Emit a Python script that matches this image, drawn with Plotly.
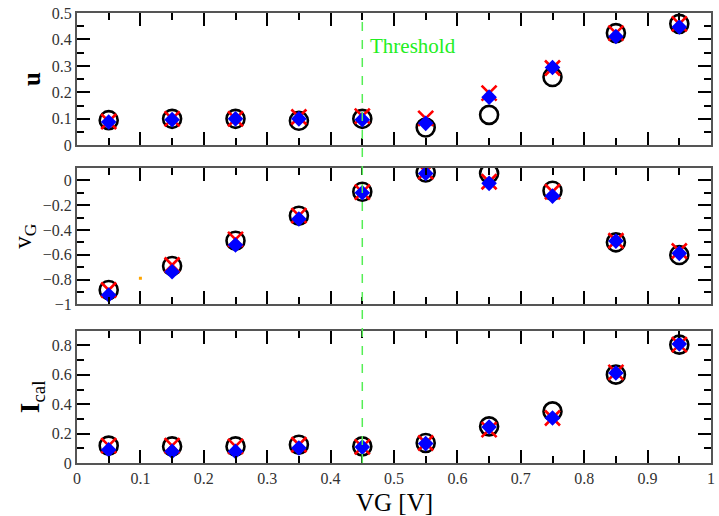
import plotly.graph_objects as go
from plotly.subplots import make_subplots

vg = [0.05, 0.15, 0.25, 0.35, 0.45, 0.55, 0.65, 0.75, 0.85, 0.95]

u_circle = [0.095, 0.100, 0.100, 0.093, 0.100, 0.067, 0.115, 0.258, 0.424, 0.459]
u_cross = [0.090, 0.100, 0.100, 0.107, 0.110, 0.102, 0.197, 0.292, 0.424, 0.459]
u_diam = [0.088, 0.097, 0.100, 0.100, 0.097, 0.083, 0.182, 0.294, 0.411, 0.447]

v_circle = [-0.885, -0.691, -0.487, -0.285, -0.092, 0.064, 0.056, -0.084, -0.500, -0.602]
v_cross = [-0.885, -0.683, -0.476, -0.285, -0.095, 0.070, -0.011, -0.092, -0.487, -0.570]
v_diam = [-0.925, -0.737, -0.522, -0.312, -0.100, 0.056, -0.024, -0.127, -0.490, -0.589]

i_circle = [0.118, 0.113, 0.113, 0.124, 0.113, 0.136, 0.249, 0.351, 0.601, 0.805]
i_cross = [0.118, 0.118, 0.113, 0.124, 0.110, 0.136, 0.227, 0.306, 0.617, 0.805]
i_diam = [0.090, 0.079, 0.079, 0.102, 0.108, 0.132, 0.245, 0.306, 0.612, 0.810]

stray_x = [0.1]
stray_y = [-0.79]

threshold = 0.45

FONT = "Liberation Serif"

fig = make_subplots(rows=3, cols=1, shared_xaxes=False, vertical_spacing=0.05)

panels = [(u_circle, u_cross, u_diam), (v_circle, v_cross, v_diam), (i_circle, i_cross, i_diam)]
for r, (c, x_, d) in enumerate(panels, start=1):
    fig.add_trace(go.Scatter(x=vg, y=c, mode="markers", showlegend=False,
                             marker=dict(symbol="circle-open", size=18, color="black",
                                         line=dict(width=2.6, color="black"))), row=r, col=1)
    fig.add_trace(go.Scatter(x=vg, y=x_, mode="markers", showlegend=False,
                             marker=dict(symbol="x-thin-open", size=15, color="red",
                                         line=dict(width=2.6, color="red"))), row=r, col=1)
    fig.add_trace(go.Scatter(x=vg, y=d, mode="markers", showlegend=False,
                             marker=dict(symbol="diamond", size=12, color="blue",
                                         line=dict(width=0))), row=r, col=1)

fig.add_trace(go.Scatter(x=stray_x, y=stray_y, mode="markers", showlegend=False,
                         marker=dict(symbol="square", size=3, color="orange", line=dict(width=0))),
              row=2, col=1)

axis_common = dict(showline=True, linecolor="#555555", linewidth=2, mirror="ticks",
                   ticks="inside", ticklen=13, tickwidth=1.5, tickcolor="black",
                   showgrid=False, zeroline=False,
                   tickfont=dict(family=FONT, size=16, color="#333333"))

domains = [(0.706, 1.0), (0.3527, 0.6556), (0.0, 0.294)]
yranges = [[0, 0.5], [-1, 0.1], [0, 0.9]]
ydticks = [0.1, 0.2, 0.2]
titles = ["<b>u</b>", "v<sub>G</sub>", "<b>I</b><sub>cal</sub>"]
tsizes = [25, 25, 27]

for i in range(3):
    xa = "xaxis" if i == 0 else f"xaxis{i+1}"
    ya = "yaxis" if i == 0 else f"yaxis{i+1}"
    fig.layout[xa].update(range=[0, 1], dtick=0.1, tick0=0, showticklabels=(i == 2),
                          minor=dict(ticks="inside", ticklen=7, dtick=0.05, tick0=0, tickcolor="black", tickwidth=1.5),
                          **axis_common)
    fig.layout[ya].update(domain=list(domains[i]), range=yranges[i], dtick=ydticks[i], tick0=0,
                          minor=dict(ticks="inside", ticklen=7, dtick=ydticks[i] / 2, tick0=0, tickcolor="black", tickwidth=1.5),
                          title=dict(text=titles[i], font=dict(family=FONT, size=tsizes[i], color="black"), standoff=4),
                          **axis_common)

fig.add_annotation(x=0.5, y=-0.088, xref="x3 domain", yref="paper", text="VG [V]", showarrow=False,
                   xanchor="center", yanchor="middle",
                   font=dict(family=FONT, size=25, color="black"))

fig.add_shape(type="line", x0=threshold, x1=threshold, xref="x", y0=0, y1=1, yref="paper",
              line=dict(color="#55ee55", width=1.5, dash="dash"))

fig.add_annotation(x=threshold, y=0.375, xref="x", yref="y", text="Threshold", showarrow=False,
                   xanchor="left", xshift=6, font=dict(family=FONT, size=21, color="#22ee22"))

fig.update_layout(width=719, height=516, margin=dict(l=77, r=4, t=13, b=53),
                  font=dict(family=FONT),
                  plot_bgcolor="white", paper_bgcolor="white")

fig.write_html("out.html")
